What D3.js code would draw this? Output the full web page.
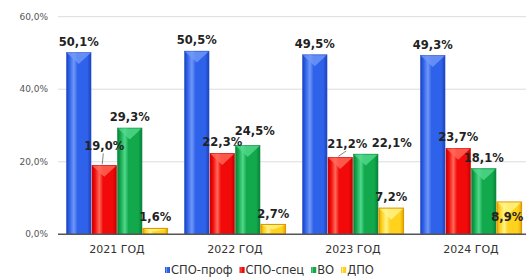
<!DOCTYPE html>
<html>
<head>
<meta charset="utf-8">
<script src="https://cdn.jsdelivr.net/npm/d3@7"></script>
<style>
  body { margin: 0; background: #fff; }
  text { font-family: "DejaVu Sans", Verdana, sans-serif; }
</style>
</head>
<body>
<div id="chart"></div>
<script>
var width = 526;
var height = 280;

// данные
var years = ["2021 ГОД", "2022 ГОД", "2023 ГОД", "2024 ГОД"];
var series = ["СПО-проф", "СПО-спец", "ВО", "ДПО"];
var sproProf = [50.1, 50.5, 49.5, 49.3];
var sproSpec = [19.0, 22.3, 21.2, 23.7];
var vo = [29.3, 24.5, 22.1, 18.1];
var dpo = [1.6, 2.7, 7.2, 8.9];
var yTicks = [0, 20, 40, 60];

var values = [sproProf, sproSpec, vo, dpo];

// цвета: основной, светлый, тёмный
var colors = [
    { main: "#2f62ea", light: "#7098f7", dark: "#1c40b8", edge: "#2a55d0" },
    { main: "#f20a0a", light: "#ff6a5a", dark: "#c20000", edge: "#d80000" },
    { main: "#12a84c", light: "#52d88c", dark: "#0a7f38", edge: "#0e9040" },
    { main: "#ffd21e", light: "#fff48a", dark: "#e6a800", edge: "#e09a00" }
];

// ручные сдвиги подписей (как в исходной диаграмме)
var nudge = {
    "0|1": { dx: 0, dy: -8, leader: true },
    "1|2": { dx: 7, dy: -3 },
    "2|1": { dx: 7, dy: -2.5, leader: true },
    "2|2": { dx: 26, dy: 0 },
    "3|3": { dx: -2, dy: 26 }
};

var x0 = d3.scaleBand()
    .domain(years)
    .range([58, 530])
    .paddingInner(0.136)
    .paddingOuter(0.068);

var x1 = d3.scaleBand()
    .domain(series)
    .range([0, x0.bandwidth()]);

var y = d3.scaleLinear()
    .domain([0, 60])
    .range([234.3, 16.7]);

var svg = d3.select("#chart")
    .append("svg")
    .attr("width", width)
    .attr("height", height);

var defs = svg.append("defs");
colors.forEach(function (c, i) {
    var g = defs.append("linearGradient")
        .attr("id", "grad" + i)
        .attr("x1", "0%").attr("x2", "100%")
        .attr("y1", "0%").attr("y2", "0%");
    g.append("stop").attr("offset", "0%").attr("stop-color", c.dark);
    g.append("stop").attr("offset", "12%").attr("stop-color", c.main);
    g.append("stop").attr("offset", "30%").attr("stop-color", c.light);
    g.append("stop").attr("offset", "45%").attr("stop-color", c.main);
    g.append("stop").attr("offset", "85%").attr("stop-color", c.main);
    g.append("stop").attr("offset", "100%").attr("stop-color", c.dark);
});

// сетка
svg.append("g")
    .selectAll("line")
    .data(yTicks.filter(function (d) { return d > 0; }))
    .enter()
    .append("line")
    .attr("x1", 58)
    .attr("x2", width)
    .attr("y1", function (d) { return y(d); })
    .attr("y2", function (d) { return y(d); })
    .attr("stroke", "#dcdcdc")
    .attr("stroke-width", 1);

var fmt = function (v) { return d3.format(".1f")(v).replace(".", ",") + "%"; };

// подписи оси Y
svg.append("g")
    .selectAll("text")
    .data(yTicks)
    .enter()
    .append("text")
    .attr("x", 48)
    .attr("y", function (d) { return y(d); })
    .attr("dy", "0.35em")
    .attr("text-anchor", "end")
    .attr("font-size", "9px")
    .attr("fill", "#555")
    .text(fmt);

// столбцы
var groups = svg.append("g")
    .selectAll("g")
    .data(years)
    .enter()
    .append("g")
    .attr("transform", function (d) { return "translate(" + x0(d) + ",0)"; });

groups.each(function (year, yi) {
    var g = d3.select(this);
    series.forEach(function (s, si) {
        var v = values[si][yi];
        var bx = x1(s);
        var bw = x1.bandwidth();
        var top = y(v);
        g.append("rect")
            .attr("x", bx + 0.5)
            .attr("y", top)
            .attr("width", bw - 1)
            .attr("height", y(0) - top)
            .attr("fill", "url(#grad" + si + ")")
            .attr("stroke", colors[si].edge)
            .attr("stroke-width", si === 3 ? 1.2 : 0.6);
        var tri = Math.min(bw * 0.45, (y(0) - top) * 0.5);
        g.append("path")
            .attr("d", "M" + (bx + 1) + "," + (top + 0.5) + "L" + (bx + bw - 1) + "," + (top + 0.5) + "L" + (bx + bw / 2) + "," + (top + tri) + "Z")
            .attr("fill", colors[si].light)
            .attr("opacity", 0.8);
    });
});

// подписи значений
groups.each(function (year, yi) {
    var g = d3.select(this);
    series.forEach(function (s, si) {
        var v = values[si][yi];
        var n = nudge[yi + "|" + si] || { dx: 0, dy: 0 };
        var cx = x1(s) + x1.bandwidth() / 2;
        var ty = y(v) - 7 + n.dy;
        if (n.leader) {
            g.append("line")
                .attr("x1", cx + n.dx - 1)
                .attr("y1", ty + 3)
                .attr("x2", cx - 2)
                .attr("y2", y(v) - 1)
                .attr("stroke", "#666")
                .attr("stroke-width", 0.8);
        }
        g.append("text")
            .attr("x", cx + n.dx)
            .attr("y", ty)
            .attr("text-anchor", "middle")
            .attr("font-size", "11.5px")
            .attr("font-weight", "bold")
            .attr("fill", "#222")
            .text(fmt(v));
    });
});

// ось X
svg.append("line")
    .attr("x1", 58)
    .attr("x2", width)
    .attr("y1", y(0))
    .attr("y2", y(0))
    .attr("stroke", "#555")
    .attr("stroke-width", 1.5);

svg.append("g")
    .selectAll("text")
    .data(years)
    .enter()
    .append("text")
    .attr("x", function (d) { return x0(d) + x0.bandwidth() / 2; })
    .attr("y", 253)
    .attr("text-anchor", "middle")
    .attr("font-size", "11px")
    .attr("fill", "#333")
    .text(function (d) { return d; });

// легенда
var legend = svg.append("g").attr("transform", "translate(165,270)");
var lx = 0;
series.forEach(function (s, si) {
    legend.append("rect")
        .attr("x", lx)
        .attr("y", -3)
        .attr("width", 5)
        .attr("height", 6)
        .attr("fill", "url(#grad" + si + ")");
    var t = legend.append("text")
        .attr("x", lx + 6)
        .attr("y", 0)
        .attr("dy", "0.35em")
        .attr("font-size", "11.5px")
        .attr("fill", "#333")
        .text(s);
    lx += 6 + t.node().getComputedTextLength() + 7;
});
</script>
</body>
</html>
